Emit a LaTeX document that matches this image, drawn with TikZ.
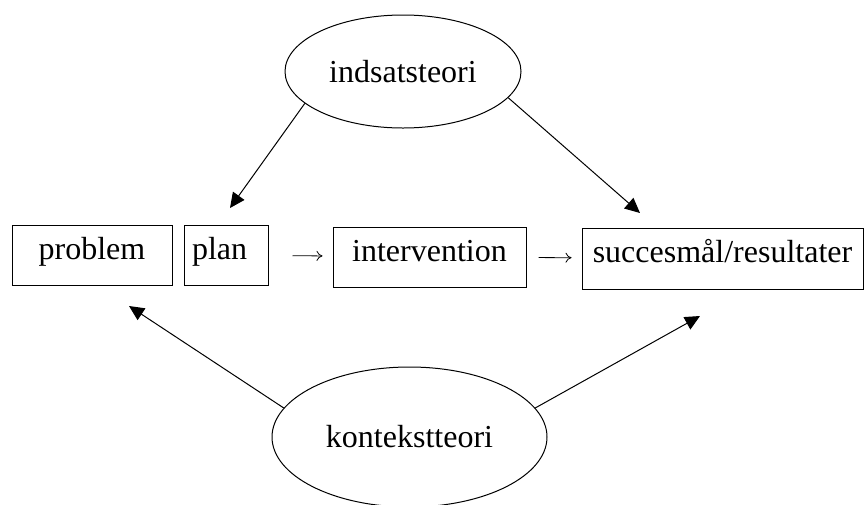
\documentclass[tikz,border=0pt]{standalone}
\usepackage{fontspec}
\setmainfont{Liberation Serif}
\usetikzlibrary{shapes.geometric,arrows.meta}

\begin{document}
\begin{tikzpicture}[x=1pt, y=-1pt, line width=1pt,
    font=\fontsize{32}{38}\selectfont,
    box/.style={draw, inner sep=0pt, minimum height=60pt, text height=20pt, text depth=12pt},
    theory/.style={draw, ellipse, inner sep=0pt},
    link/.style={-{Triangle[length=15pt,width=14pt]}},
    flow/.style={-{To[length=6pt,width=10pt]}, line width=0.8pt}]
    \useasboundingbox (0,0) rectangle (866,504);
    \node[box, minimum width=160pt] (problem) at (92,255) {problem};
    \node[box, minimum width=84pt, text width=68pt, align=left] (plan) at (226,255) {plan};
    \node[box, minimum width=193pt] (interv) at (429.5,257) {intervention};
    \node[box, minimum width=281pt, minimum height=61pt] (succes) at (722.5,258.5) {succesmål/resultater};
    \node[theory, minimum width=236pt, minimum height=113pt] (indsats) at (403,71.5) {indsatsteori};
    \node[theory, minimum width=275pt, minimum height=140pt] (kontekst) at (409.5,437) {kontekstteori};
    \coordinate (tipplan) at (230,208);
    \coordinate (tipsucces) at (640,213);
    \coordinate (tipproblem) at (129,306);
    \coordinate (tipresult) at (700,316);
    \draw[flow, shorten <=24pt, shorten >=10pt] (plan) -- (interv);
    \draw[flow, shorten <=12pt, shorten >=10pt] (interv) -- (succes);
    \draw[link] (indsats.198) -- (tipplan);
    \draw[link] (indsats.346) -- (tipsucces);
    \draw[link] (kontekst.167) -- (tipproblem);
    \draw[link] (kontekst.13) -- (tipresult);
\end{tikzpicture}
\end{document}
